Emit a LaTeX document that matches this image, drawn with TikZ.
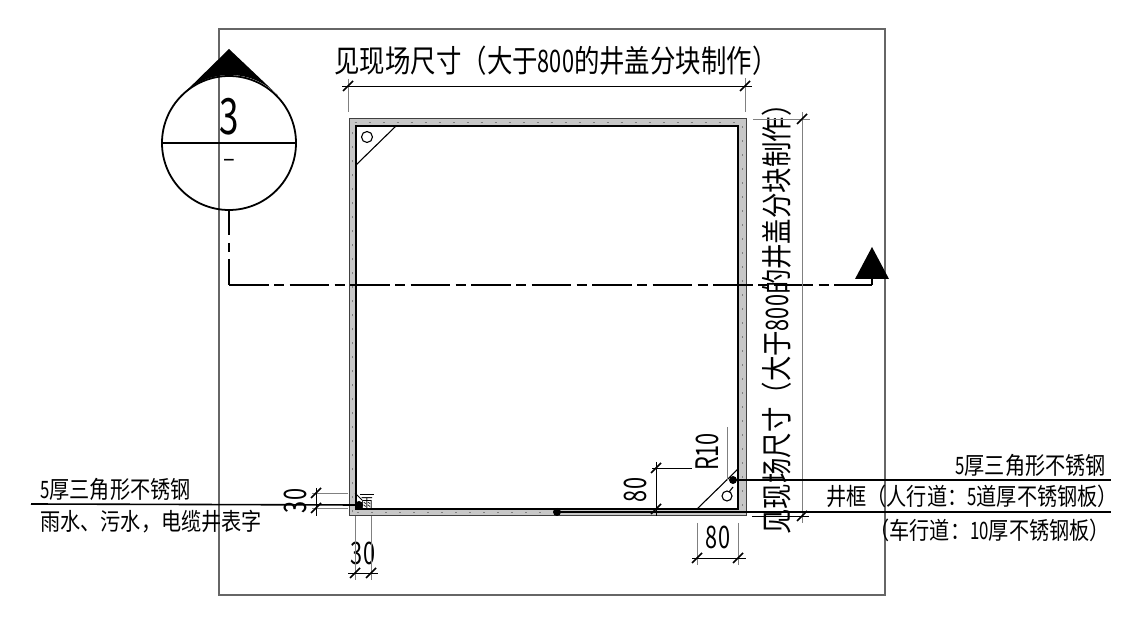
\documentclass[tikz,border=0pt]{standalone}
\usepackage{fontspec}
\newfontfamily\cjk[FakeStretch=0.84]{Noto Sans CJK SC}
\newfontfamily\cjkbig[FakeStretch=0.82]{Noto Sans CJK SC}
\newfontfamily\dgt[FakeStretch=0.7]{Noto Sans CJK SC}
\begin{document}
\begin{tikzpicture}[x=1pt,y=1pt,
    big text/.style={font=\cjkbig\fontsize{31}{31}\selectfont, inner sep=0pt},
    small text/.style={font=\cjk\fontsize{24}{24}\selectfont, inner sep=0pt},
    dim text/.style={font=\dgt\fontsize{31}{31}\selectfont, inner sep=0pt},
    sheet line/.style={draw=black!60, line width=1.1pt},
    ext line/.style={draw=black!50, line width=0.9pt},
    dim line/.style={draw=black, line width=0.9pt},
    tick line/.style={draw=black, line width=1.5pt},
    lead line/.style={draw=black, line width=1.6pt},
    wall line/.style={draw=black, line width=1.1pt},
    cut line/.style={draw=black, line width=1.3pt}]
  \useasboundingbox (0,0) rectangle (1124,621);
  \fill[white] (0,0) rectangle (1124,621);
  % sheet frame
  \draw[sheet line] (219,26) rectangle (885,592);

  % well frame
  \coordinate (wall sw) at (349,105);
  \coordinate (wall ne) at (746,502);
  \coordinate (inner sw) at (356,112);
  \coordinate (inner ne) at (738,495);
  \coordinate (wall mid sw) at (352.5,108.5);
  \coordinate (wall mid ne) at (742.5,498.5);
  \fill[black!22, even odd rule] (wall sw) rectangle (wall ne) (inner sw) rectangle (inner ne);
  \draw[black!50, line width=0.7pt, dash pattern=on 2pt off 12pt] (wall mid sw) rectangle (wall mid ne);
  \draw[wall line, draw=black!75, line width=1pt] (wall sw) rectangle (wall ne);
  \draw[wall line] (inner sw) rectangle (inner ne);

  % corner plates
  \draw[wall line] (356,456) -- (396,495);
  \draw[wall line] (367,484) circle (5.5);
  \draw[wall line] (697,112) -- (738,152);
  \draw[wall line] (727,125) circle (5);
  \draw[wall line] (729,129) -- (733,134);
  \fill (733,141) coordinate (dot plate) circle (4);
  \fill (557,109) coordinate (dot bottom) circle (4);
  \fill (359,116) coordinate (dot small) circle (4);
  \draw[wall line, line width=0.8pt] (355,128) -- (362,121);
  \node[font=\cjk\fontsize{14}{14}\selectfont, inner sep=0pt] (small mark) at (367,117) {雨};
  \draw[wall line, line width=1pt] (360,126) -- (374,126);

  % section mark
  \coordinate (cut centre) at (229,478);
  \coordinate (cut apex) at (229,572);
  \fill[black] (cut apex) -- (182,526) arc (135.5:44.5:67) -- cycle;
  \draw[cut line, line width=1.8pt] (cut centre) circle (67);
  \draw[cut line] (162,478) -- (296,478);
  \node[font=\dgt\fontsize{50}{50}\selectfont, inner sep=0pt] (cut number) at (229,504) {3};
  \node[font=\cjk\fontsize{26}{26}\selectfont, inner sep=0pt] (cut sheet) at (229,458) {–};
  \coordinate (cut corner) at (229,336);
  \coordinate (cut bend) at (872,336);
  \coordinate (cut end) at (872,343);
  \draw[cut line, dash pattern=on 25pt off 8pt on 9pt off 7pt on 30pt] (229,411) -- (cut corner);
  \draw[cut line, dash pattern=on 39.5pt off 5.5pt on 10pt off 5.5pt] (cut corner) -- (cut bend);
  \draw[cut line] (cut bend) -- (cut end);
  \fill[black] (872,374) -- (855,342) -- (889,342) -- cycle;

  % dimensions
  \node[big text] (top size) at (556,560) {见现场尺寸（大于{\dgt 800}的井盖分块制作）};
  \node[big text, rotate=90] (side size) at (777,308) {见现场尺寸（大于{\dgt 800}的井盖分块制作）};
  \node[dim text, rotate=90] (corner v) at (635,131) {80};
  \node[dim text] (corner h) at (718,84) {80};
  \node[dim text, rotate=90] (radius) at (707,169) {R10};
  \node[dim text] (wall h) at (363,68) {30};
  \node[dim text, rotate=90] (wall v) at (295,120) {30};

  \draw[ext line] (348,542) -- (348,509) (745,543) -- (745,509);
  \draw[dim line] (342,535) -- (752,535);
  \draw[ext line] (753,502) -- (810,502);
  \draw[ext line] (802,509) -- (802,98);
  \draw[dim line] (752,105) -- (809,105);
  \draw[ext line] (312,128) -- (348,128) (312,113) -- (348,113);
  \draw[dim line] (316,133) -- (316,105);
  \draw[ext line] (355,105) -- (355,41) (371,105) -- (371,41);
  \draw[dim line] (348,48) -- (378,48);
  \draw[ext line] (697,98) -- (697,56) (738,98) -- (738,56);
  \draw[dim line] (692,63) -- (746,63);
  \draw[dim line] (656,159) -- (656,105);
  \draw[dim line] (652,153) -- (692,153);
  \draw[ext line] (727,194) -- (727,141);

  \foreach \tickx/\ticky in {348/535, 745/535, 802/502, 802/105, 316/128, 316/113, 355/48, 371/48, 697/63, 738/63, 656/153, 656/112}
    \draw[tick line] (\tickx-5,\ticky-5) -- (\tickx+5,\ticky+5);

  % leaders and their labels
  \coordinate (left end) at (31,117);
  \coordinate (right top end) at (1111,141);
  \coordinate (right low end) at (1111,109);
  \draw[lead line] (left end) -- (dot small);
  \draw[lead line] (dot plate) -- (right top end);
  \draw[lead line] (dot bottom) -- (right low end);
  \node[small text, anchor=west] (left top) at (40,132) {{\dgt 5}厚三角形不锈钢};
  \node[small text, anchor=west] (left low) at (40,99) {雨水、污水，电缆井表字};
  \node[small text, anchor=east] (right top) at (1106,156) {{\dgt 5}厚三角形不锈钢};
  \node[small text, anchor=east] (right mid) at (1118,125) {井框（人行道：{\dgt 5}道厚不锈钢板）};
  \node[small text, anchor=east] (right low) at (1110,91) {（车行道：{\dgt 10}厚不锈钢板）};
\end{tikzpicture}
\end{document}
